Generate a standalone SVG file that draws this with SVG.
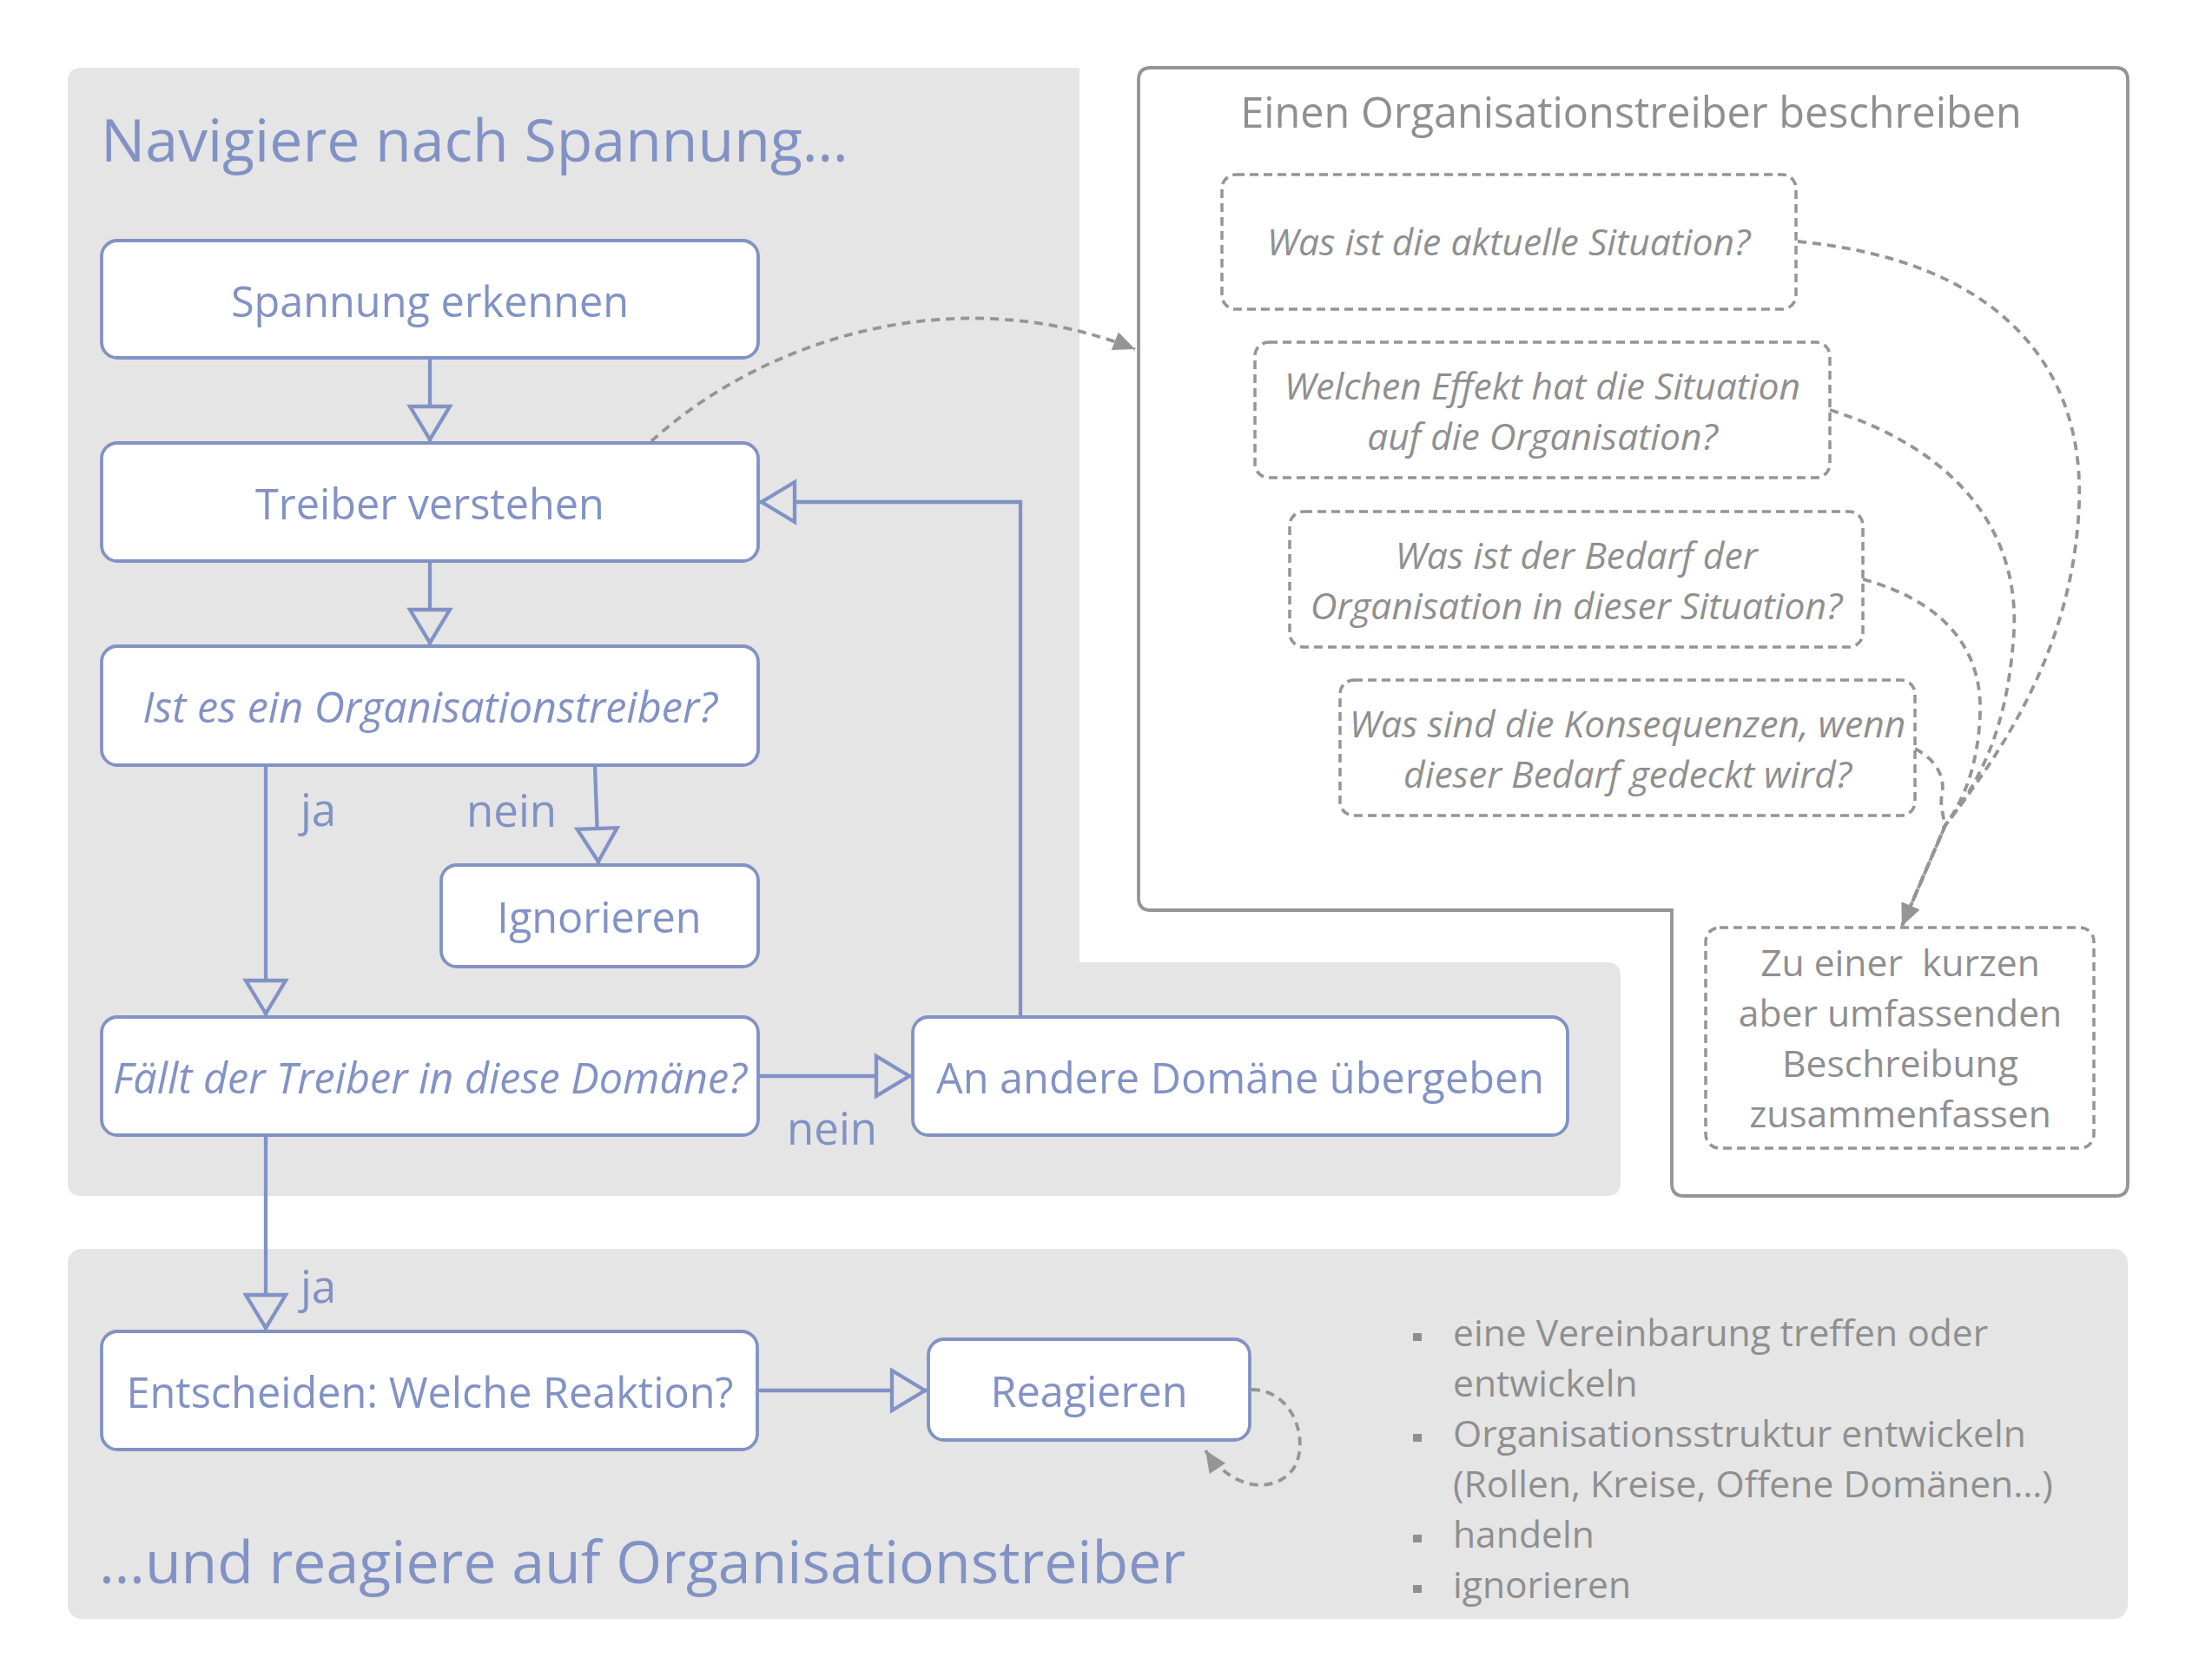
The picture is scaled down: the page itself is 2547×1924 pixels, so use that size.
<svg xmlns="http://www.w3.org/2000/svg" width="2547" height="1924" viewBox="0 0 2547 1924">
<defs>
<style>
.t{font-family:"Open Sans","Noto Sans","DejaVu Sans",sans-serif}
.blue{fill:#8292c5}
.gray{fill:#8f8f8f}
.title{font-size:68px}
.nt{font-size:48.6px;text-anchor:middle}
.it{font-style:italic}
.lbl{font-size:51px}
.gt{font-size:42.6px}
.gc{font-size:42.6px;text-anchor:middle}
.node{fill:#ffffff;stroke:#8292c5;stroke-width:3.8}
.dbox{fill:#ffffff;stroke:#959595;stroke-width:3.5;stroke-dasharray:10 6}
.conn{fill:none;stroke:#8292c5;stroke-width:4.3;marker-end:url(#tri)}
.dconn{fill:none;stroke:#959595;stroke-width:3.8;stroke-dasharray:10 7;marker-end:url(#garr)}
.pre{white-space:pre}
</style>
<marker id="tri" markerUnits="userSpaceOnUse" markerWidth="60" markerHeight="60" viewBox="-50 -30 60 60" refX="0" refY="0" orient="auto" overflow="visible">
<path d="M-40,-23 L-2,0 L-40,23 Z" fill="#e5e5e5" stroke="#8292c5" stroke-width="4.3"/>
</marker>
<marker id="garr" markerUnits="userSpaceOnUse" markerWidth="40" markerHeight="40" viewBox="-30 -20 40 40" refX="0" refY="0" orient="auto" overflow="visible">
<path d="M-25,-11 L0,0 L-25,11 Z" fill="#959595"/>
</marker>
</defs>

<!-- background panels -->
<g id="panel-top">
<path d="M94,78 H1243 V1108 H1850 Q1866,1108 1866,1124 V1361 Q1866,1377 1850,1377 H94 Q78,1377 78,1361 V94 Q78,78 94,78 Z" fill="#e5e5e5"/>
</g>
<g id="panel-bottom">
<rect x="78" y="1438" width="2372" height="426" rx="16" fill="#e5e5e5"/>
</g>
<g id="panel-describe">
<path d="M1325,78 H2436 Q2450,78 2450,92 V1363 Q2450,1377 2436,1377 H1939 Q1925,1377 1925,1363 V1048 H1325 Q1311,1048 1311,1034 V92 Q1311,78 1325,78 Z" fill="#ffffff" stroke="#959595" stroke-width="3.8"/>
</g>

<text class="t blue title" x="116" y="186">Navigiere nach Spannung…</text>
<text class="t blue title" x="114" y="1823">…und reagiere auf Organisationstreiber</text>
<text class="t gray" x="1878" y="147" font-size="48.6" text-anchor="middle">Einen Organisationstreiber beschreiben</text>

<!-- connectors -->
<g id="connectors">
<path class="conn" d="M495,412 V508"/>
<path class="conn" d="M495,646 V742"/>
<path class="conn" d="M306,881 V1169"/>
<path class="conn" d="M685,881 L689,994"/>
<path class="conn" d="M872,1239 H1049"/>
<path class="conn" d="M1175,1171 V578 H875"/>
<path class="conn" d="M306,1307 V1531"/>
<path class="conn" d="M872,1601 H1067"/>
<path class="dconn" d="M750,508 C880,390 1100,320 1307,402"/>
<path class="dconn" d="M1441,1600 C1490,1600 1508,1660 1490,1690 C1470,1720 1420,1718 1388,1670"/>
<path class="dconn" d="M2070,278 C2300,300 2400,420 2394,580 C2388,740 2310,860 2240,950 L2190,1066"/>
<path class="dconn" d="M2107,472 C2260,520 2330,620 2318,740 C2310,840 2280,900 2240,950 L2190,1066"/>
<path class="dconn" d="M2145,667 C2230,690 2282,740 2280,820 C2278,880 2262,920 2240,950 L2190,1066"/>
<path class="dconn" d="M2205,862 C2230,875 2240,895 2236,915 C2233,930 2240,940 2238,955 L2190,1066"/>
<text class="t blue lbl" x="346" y="951">ja</text>
<text class="t blue lbl" x="537" y="952">nein</text>
<text class="t blue lbl" x="906" y="1318">nein</text>
<text class="t blue lbl" x="346" y="1500">ja</text>
</g>

<!-- nodes -->
<g id="n-spannung">
<rect class="node" x="117" y="277" width="756" height="135" rx="18"/>
<text class="t blue nt" x="495" y="365">Spannung erkennen</text>
</g>
<g id="n-treiber">
<rect class="node" x="117" y="510" width="756" height="136" rx="18"/>
<text class="t blue nt" x="495" y="598">Treiber verstehen</text>
</g>
<g id="n-ist">
<rect class="node" x="117" y="744" width="756" height="137" rx="18"/>
<text class="t blue nt it" x="495" y="832">Ist es ein Organisationstreiber?</text>
</g>
<g id="n-ignorieren">
<rect class="node" x="508" y="996" width="365" height="117" rx="18"/>
<text class="t blue nt" x="690" y="1074">Ignorieren</text>
</g>
<g id="n-faellt">
<rect class="node" x="117" y="1171" width="756" height="136" rx="18"/>
<text class="t blue nt it" x="495" y="1259">Fällt der Treiber in diese Domäne?</text>
</g>
<g id="n-andere">
<rect class="node" x="1051" y="1171" width="754" height="136" rx="18"/>
<text class="t blue nt" x="1428" y="1259">An andere Domäne übergeben</text>
</g>
<g id="n-entscheiden">
<rect class="node" x="117" y="1533" width="755" height="136" rx="18"/>
<text class="t blue nt" x="495" y="1621">Entscheiden: Welche Reaktion?</text>
</g>
<g id="n-reagieren">
<rect class="node" x="1069" y="1542" width="370" height="116" rx="18"/>
<text class="t blue nt" x="1254" y="1620">Reagieren</text>
</g>

<g id="q-situation">
<rect class="dbox" x="1407" y="201" width="661" height="155" rx="16"/>
<text class="t gray gc it" x="1737" y="294">Was ist die aktuelle Situation?</text>
</g>
<g id="q-effekt">
<rect class="dbox" x="1445" y="394" width="662" height="156" rx="16"/>
<text class="t gray gc it" x="1776" y="460">Welchen Effekt hat die Situation</text>
<text class="t gray gc it" x="1776" y="518">auf die Organisation?</text>
</g>
<g id="q-bedarf">
<rect class="dbox" x="1485" y="589" width="660" height="156" rx="16"/>
<text class="t gray gc it" x="1815" y="655">Was ist der Bedarf der</text>
<text class="t gray gc it" x="1815" y="713">Organisation in dieser Situation?</text>
</g>
<g id="q-konsequenzen">
<rect class="dbox" x="1543" y="783" width="662" height="156" rx="16"/>
<text class="t gray gc it" x="1874" y="849">Was sind die Konsequenzen, wenn</text>
<text class="t gray gc it" x="1874" y="907">dieser Bedarf gedeckt wird?</text>
</g>
<g id="q-zusammenfassen">
<rect class="dbox" x="1964" y="1068" width="447" height="254" rx="16"/>
<text class="t gray gc pre" x="2188" y="1124">Zu einer  kurzen</text>
<text class="t gray gc" x="2188" y="1182">aber umfassenden</text>
<text class="t gray gc" x="2188" y="1240">Beschreibung</text>
<text class="t gray gc" x="2188" y="1298">zusammenfassen</text>
</g>

<g id="reaction-list">
<rect class="gray" x="1627" y="1535" width="10" height="9"/>
<rect class="gray" x="1627" y="1651" width="10" height="9"/>
<rect class="gray" x="1627" y="1767" width="10" height="9"/>
<rect class="gray" x="1627" y="1825" width="10" height="9"/>
<text class="t gray gt" x="1673" y="1550">eine Vereinbarung treffen oder</text>
<text class="t gray gt" x="1673" y="1608">entwickeln</text>
<text class="t gray gt" x="1673" y="1666">Organisationsstruktur entwickeln</text>
<text class="t gray gt" x="1673" y="1724">(Rollen, Kreise, Offene Domänen…)</text>
<text class="t gray gt" x="1673" y="1782">handeln</text>
<text class="t gray gt" x="1673" y="1840">ignorieren</text>
</g>
</svg>
